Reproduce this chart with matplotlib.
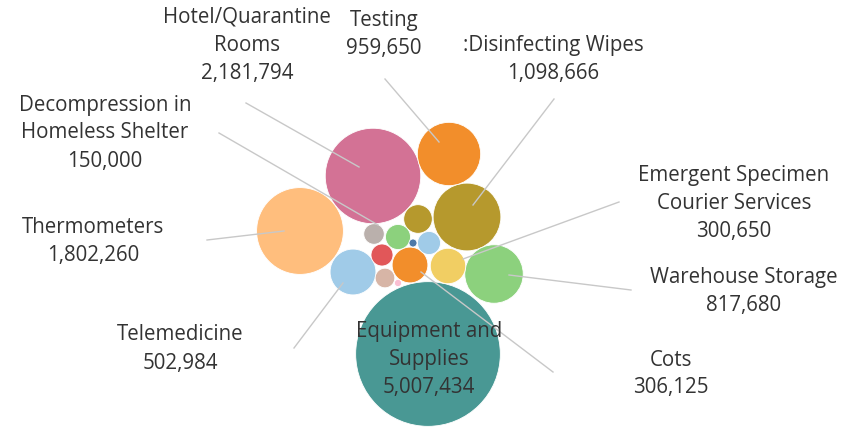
import numpy as np
import matplotlib
matplotlib.use('Agg')
import matplotlib.pyplot as plt
from matplotlib.patches import Circle

# data
categories = ['Equipment and\nSupplies', 'Hotel/Quarantine\nRooms', 'Thermometers',
              ':Disinfecting Wipes', 'Testing', 'Warehouse Storage', 'Telemedicine',
              'Cots', 'Emergent Specimen\nCourier Services', 'Other A',
              'Decompression in\nHomeless Shelter', 'Other B', 'Other C', 'Other D',
              'Other E', 'Other F', 'Other G']
values = [5007434, 2181794, 1802260, 1098666, 959650, 817680, 502984,
          306125, 300650, 196000, 150000, 127000, 116000, 101000,
          92000, 15300, 12500]
show_label = [True, True, True, True, True, True, True,
              True, True, False, True, False, False, False,
              False, False, False]

colors = ['#499894', '#D37295', '#FFBE7D', '#B6992D', '#F28E2B', '#8CD17D', '#A0CBE8',
          '#F28E2B', '#F1CE63', '#B6992D', '#8CD17D', '#A0CBE8', '#E15759', '#BAB0AC',
          '#D7B5A6', '#4E79A7', '#FABFD2']

# packed layout (bubble centres, pixel space)
centres = [(428, 354), (373, 176), (300, 231), (467, 217), (449, 154), (494, 274),
           (353, 272), (410, 265), (448, 266), (418, 219), (398, 237), (429, 243),
           (382, 255), (374, 234), (385, 278), (413, 243), (398, 283)]

# label placement: text centre, first line y, leader line (x0, y0, x1, y1)
labels = {
    'Hotel/Quarantine\nRooms': ((247, 17), (246, 103, 359, 167)),
    'Testing': ((384, 20), (385, 79, 439, 142)),
    ':Disinfecting Wipes': ((553, 45), (554, 99, 473, 205)),
    'Decompression in\nHomeless Shelter': ((105, 105), (219, 133, 378, 225)),
    'Thermometers': ((93, 227), (207, 240, 284, 231)),
    'Emergent Specimen\nCourier Services': ((734, 175), (619, 202, 463, 259)),
    'Warehouse Storage': ((744, 278), (631, 290, 509, 275)),
    'Telemedicine': ((180, 335), (294, 348, 343, 283)),
    'Cots': ((671, 360), (553, 372, 421, 272)),
    'Equipment and\nSupplies': ((429, 331), None),
}

scale = np.sqrt(1.045e-3)

plt.rcParams['font.family'] = ['Open Sans', 'DejaVu Sans']
fig = plt.figure(figsize=(8.62, 4.28), dpi=100)
ax = fig.add_axes([0, 0, 1, 1])
ax.set_xlim(0, 862)
ax.set_ylim(428, 0)
ax.set_aspect('equal')
ax.axis('off')

for name, v, c, (cx, cy) in zip(categories, values, colors, centres):
    ax.add_patch(Circle((cx, cy), np.sqrt(v) * scale, facecolor=c, edgecolor='white',
                        linewidth=0.6, zorder=2))

for name, v, show in zip(categories, values, show_label):
    if not show:
        continue
    (tx, ty), line = labels[name]
    if line is not None:
        ax.plot([line[0], line[2]], [line[1], line[3]], color='#c8c8c8', lw=1, zorder=3)
    text_lines = name.split('\n') + [f'{v:,}']
    for i, t in enumerate(text_lines):
        ax.text(tx, ty + i * 28, t, ha='center', va='center', fontsize=14.8,
                color='#333333', zorder=4)

plt.savefig('out.png', dpi=100)
